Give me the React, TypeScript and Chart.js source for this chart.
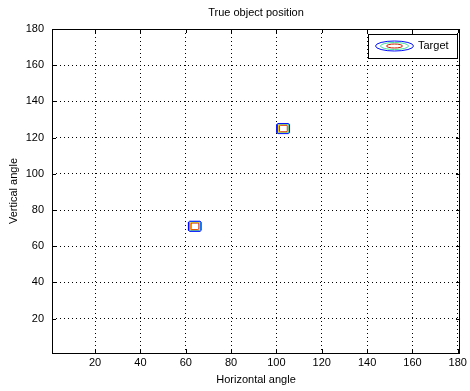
import React, { useEffect, useRef } from "react";
import { Chart, registerables } from "chart.js";

Chart.register(...registerables);

// Target centres (horizontal angle, vertical angle)
const targetX = [64, 103];
const targetY = [71, 125];

// Contour levels, outermost first: half-width of each ring in degrees and its colour
const levelHalf = [2.8, 2.55, 2.3, 2.05, 1.8];
const levelColors = ["#0010ff", "#00a8ff", "#ffd400", "#ff7800", "#c81e00"];

// Axis ranges and ticks
const xRange = [1, 181];
const yRange = [1, 180];
const xTicks = [20, 40, 60, 80, 100, 120, 140, 160, 180];
const yTicks = [20, 40, 60, 80, 100, 120, 140, 160, 180];

const FONT = "'Liberation Sans', Arial, Helvetica, sans-serif";

// Closed ring with slightly clipped corners around a centre
function ring(cx: number, cy: number, h: number) {
  const c = 0.5;
  return [
    { x: cx - h + c, y: cy - h },
    { x: cx + h - c, y: cy - h },
    { x: cx + h, y: cy - h + c },
    { x: cx + h, y: cy + h - c },
    { x: cx + h - c, y: cy + h },
    { x: cx - h + c, y: cy + h },
    { x: cx - h, y: cy + h - c },
    { x: cx - h, y: cy - h + c },
    { x: cx - h + c, y: cy - h },
  ];
}

const framePlugin = {
  id: "frame",
  afterDraw(chart: any) {
    const { ctx, chartArea: a, scales } = chart;
    const xs = scales.x;
    const ys = scales.y;
    ctx.save();
    // inward tick marks on all four sides
    ctx.strokeStyle = "#000";
    ctx.lineWidth = 1;
    ctx.beginPath();
    for (const v of xTicks) {
      const px = Math.round(xs.getPixelForValue(v)) + 0.5;
      ctx.moveTo(px, a.bottom);
      ctx.lineTo(px, a.bottom - 4);
      ctx.moveTo(px, a.top);
      ctx.lineTo(px, a.top + 4);
    }
    for (const v of yTicks) {
      const py = Math.round(ys.getPixelForValue(v)) + 0.5;
      ctx.moveTo(a.left, py);
      ctx.lineTo(a.left + 4, py);
      ctx.moveTo(a.right, py);
      ctx.lineTo(a.right - 4, py);
    }
    ctx.stroke();
    // axes box
    ctx.strokeRect(Math.round(a.left) + 0.5, Math.round(a.top) + 0.5, Math.round(a.right - a.left) - 1, Math.round(a.bottom - a.top));

    // titles
    ctx.fillStyle = "#000";
    ctx.font = `11px ${FONT}`;
    ctx.textAlign = "center";
    ctx.textBaseline = "middle";
    const midX = (a.left + a.right) / 2;
    ctx.fillText("True object position", midX, 13);
    ctx.fillText("Horizontal angle", midX, 380);
    ctx.save();
    ctx.translate(14, (a.top + a.bottom) / 2);
    ctx.rotate(-Math.PI / 2);
    ctx.fillText("Vertical angle", 0, 0);
    ctx.restore();

    // legend box
    const bx = 368.5, by = 34.5, bw = 89, bh = 24;
    ctx.fillStyle = "#fff";
    ctx.fillRect(bx, by, bw, bh);
    ctx.strokeStyle = "#000";
    ctx.strokeRect(bx, by, bw, bh);
    const ex = 394.5, ey = 46;
    const rings = [
      { rx: 19, ry: 5, c: levelColors[0] },
      { rx: 14, ry: 3.5, c: "#40e0a0" },
      { rx: 8, ry: 2, c: levelColors[4] },
    ];
    for (const r of rings) {
      ctx.strokeStyle = r.c;
      ctx.beginPath();
      ctx.ellipse(ex, ey, r.rx, r.ry, 0, 0, Math.PI * 2);
      ctx.stroke();
    }
    ctx.fillStyle = "#000";
    ctx.textAlign = "left";
    ctx.fillText("Target", 418, ey);
    ctx.restore();
  },
};

export default function App() {
  const ref = useRef<HTMLCanvasElement | null>(null);

  useEffect(() => {
    if (!ref.current) return;
    const datasets: any[] = [];
    targetX.forEach((tx, i) => {
      levelHalf.forEach((h, j) => {
        datasets.push({
          label: `Target ${i + 1} level ${j + 1}`,
          data: ring(tx, targetY[i], h),
          showLine: true,
          borderColor: levelColors[j],
          borderWidth: 1,
          pointRadius: 0,
          fill: false,
          tension: 0,
        });
      });
    });

    const tickFont = { family: FONT, size: 11 };
    const chart = new Chart(ref.current, {
      type: "scatter",
      data: { datasets },
      plugins: [framePlugin],
      options: {
        responsive: false,
        animation: false,
        devicePixelRatio: 1,
        layout: { padding: { top: 29, right: 9, left: 0, bottom: 0 } },
        plugins: { legend: { display: false }, tooltip: { enabled: false }, title: { display: false } },
        scales: {
          x: {
            type: "linear",
            min: xRange[0],
            max: xRange[1],
            afterBuildTicks: (s: any) => {
              s.ticks = xTicks.map((v) => ({ value: v }));
            },
            afterFit: (s: any) => {
              s.height = 38;
            },
            grid: { color: "#000", lineWidth: 1, drawTicks: false },
            border: { display: false, dash: [1, 3] },
            ticks: { font: tickFont, color: "#000", padding: 3, maxRotation: 0 },
          },
          y: {
            type: "linear",
            min: yRange[0],
            max: yRange[1],
            afterBuildTicks: (s: any) => {
              s.ticks = yTicks.map((v) => ({ value: v }));
            },
            afterFit: (s: any) => {
              s.width = 52;
            },
            grid: { color: "#000", lineWidth: 1, drawTicks: false },
            border: { display: false, dash: [1, 3] },
            ticks: { font: tickFont, color: "#000", padding: 8 },
          },
        },
      } as any,
    });
    return () => chart.destroy();
  }, []);

  return (
    <div style={{ position: "fixed", left: 0, top: 0, width: 470, height: 391, background: "#fff" }}>
      <canvas ref={ref} width={470} height={391} />
    </div>
  );
}
